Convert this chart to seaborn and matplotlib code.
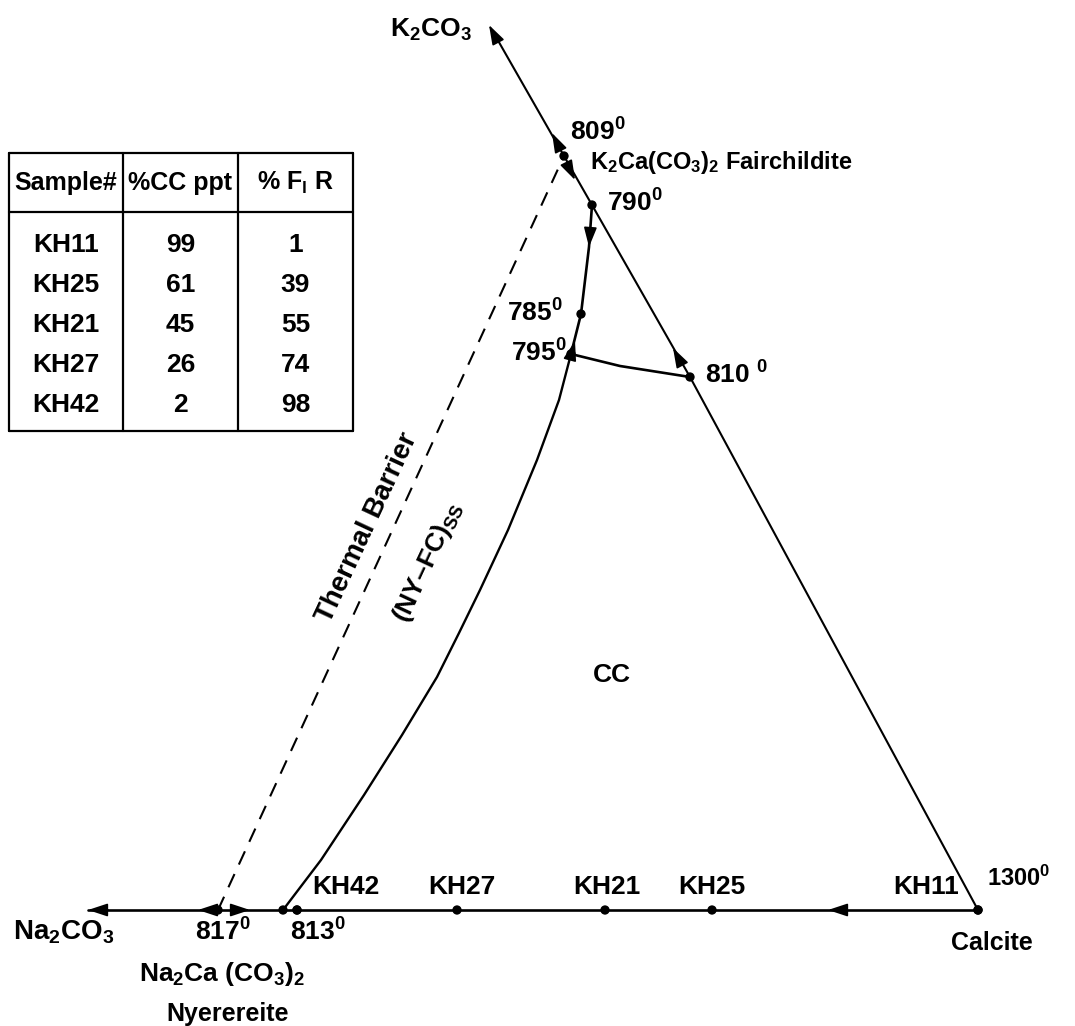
import numpy as np
import pandas as pd
import seaborn as sns
import matplotlib.pyplot as plt

# ---- data (diagram frame: x to the right, y downwards) ----
# Na2CO3 - Calcite join
base_x = [88, 978]
base_y = [910, 910]
# K2CO3 - Calcite join, through 810, 790 and 809 points
right_x = [978, 690, 592, 564, 492]
right_y = [910, 377, 205, 156, 30]
# thermal barrier (dashed), 817 -> 809
barrier_x = [218, 564]
barrier_y = [910, 156]
# boundary curve 790 -> 785 -> 795
upper_x = [592, 589, 581, 571]
upper_y = [205, 247, 314, 354]
# boundary curve 795 -> 810
mid_x = [571, 620, 690]
mid_y = [354, 366, 377]
# (NY-FC)ss liquidus 795 -> 813
lower_x = [571, 559, 537, 508, 480, 459, 437, 402, 364, 321, 283]
lower_y = [354, 400, 460, 530, 590, 633, 677, 735, 795, 860, 910]

# invariant points
inv_x = [564, 592, 581, 571, 690, 218, 283, 297, 978]
inv_y = [156, 205, 314, 354, 377, 910, 910, 910, 910]

# samples along the base line
samples = ["KH11", "KH25", "KH21", "KH27", "KH42"]
cc_ppt = [99, 61, 45, 26, 2]
fl_r = [1, 39, 55, 74, 98]
sample_x = [978, 712, 605, 457, 297]

# arrow heads: (tail x, tail y, head x, head y)
arrows = [
    (498, 42, 489, 25),
    (88 + 20, 910, 88, 910),
    (558, 145, 552, 133),
    (569, 168, 575, 180),
    (590, 233, 589, 247),
    (572, 352, 575, 341),
    (680, 361, 673, 348),
    (842, 910, 828, 910),
    (212, 910, 198, 910),
    (236, 910, 250, 910),
]

sns.set_theme(style="white")
plt.rcParams["font.family"] = ["Liberation Sans", "DejaVu Sans"]
plt.rcParams["text.color"] = "black"
plt.rcParams["mathtext.fontset"] = "custom"
plt.rcParams["mathtext.bf"] = "Liberation Sans:bold"
plt.rcParams["mathtext.rm"] = "Liberation Sans:bold"
plt.rcParams["mathtext.default"] = "bf"

fig = plt.figure(figsize=(10.75, 10.26), dpi=100)
ax = fig.add_axes([0, 0, 1, 1])
ax.set_xlim(0, 1075)
ax.set_ylim(1026, 0)
ax.axis("off")

line_kw = dict(sort=False, estimator=None, color="black", legend=False, ax=ax)
sns.lineplot(x=base_x, y=base_y, lw=1.9, **line_kw)
sns.lineplot(x=right_x, y=right_y, lw=1.5, **line_kw)
sns.lineplot(x=upper_x, y=upper_y, lw=1.9, **line_kw)
sns.lineplot(x=mid_x, y=mid_y, lw=1.9, **line_kw)
sns.lineplot(x=lower_x, y=lower_y, lw=1.7, **line_kw)
ax.plot(barrier_x, barrier_y, color="black", lw=1.5, dashes=(7, 5))

sns.scatterplot(x=inv_x, y=inv_y, s=45, color="black", edgecolor="none", ax=ax)
sns.scatterplot(x=sample_x, y=[910] * len(sample_x), s=45, color="black",
                edgecolor="none", ax=ax)

for x0, y0, x1, y1 in arrows:
    ax.annotate("", xy=(x1, y1), xytext=(x0, y0),
                arrowprops=dict(arrowstyle="-|>,head_length=1.0,head_width=0.33",
                                color="black", lw=1.2, shrinkA=0, shrinkB=0))


def label(x, y, s, size=19, **kw):
    ax.text(x, y, s, fontsize=size, fontweight="bold", color="black", **kw)


label(472, 30, "K$_2$CO$_3$", ha="right", va="center")
label(570, 132, "809$^0$", ha="left", va="center")
label(590, 163, "K$_2$Ca(CO$_3$)$_2$ Fairchildite", size=17, ha="left", va="center")
label(607, 203, "790$^0$", ha="left", va="center")
label(563, 313, "785$^0$", ha="right", va="center")
label(567, 353, "795$^0$", ha="right", va="center")
label(705, 375, "810 $^0$", ha="left", va="center")
label(987, 878, "1300$^0$", size=17, ha="left", va="center")
label(992, 943, "Calcite", size=18, ha="center", va="center")
label(13, 932, "Na$_2$CO$_3$", size=20, ha="left", va="center")
label(195, 932, "817$^0$", ha="left", va="center")
label(290, 932, "813$^0$", ha="left", va="center")
label(222, 974, "Na$_2$Ca (CO$_3$)$_2$", ha="center", va="center")
label(228, 1014, "Nyerereite", size=18, ha="center", va="center")
label(612, 675, "CC", ha="center", va="center")

label(367, 528, "Thermal Barrier", size=20, rotation=65, ha="center", va="center",
      rotation_mode="anchor")
label(428, 562, "(NY\u2013FC)$_{SS}$", rotation=65, ha="center", va="center",
      rotation_mode="anchor")

label_left = [893, 678, 573, 428, 312]
for name, lx in zip(samples, label_left):
    label(lx, 887, name, ha="left", va="center")

# ---- table ----
col_edges = [9, 123, 238, 353]
row_top, head_bottom, row_bottom = 153, 212, 431
for cx in col_edges:
    ax.plot([cx, cx], [row_top, row_bottom], color="black", lw=1.6)
for ry in [row_top, head_bottom, row_bottom]:
    ax.plot([col_edges[0], col_edges[-1]], [ry, ry], color="black", lw=1.6)

headers = ["Sample#", "%CC ppt", "% F$_l$ R"]
col_mid = [(a + b) / 2 for a, b in zip(col_edges[:-1], col_edges[1:])]
for h, cx in zip(headers, col_mid):
    label(cx, 183, h, size=18, ha="center", va="center")
for i, (s, c, f) in enumerate(zip(samples, cc_ppt, fl_r)):
    ry = 245 + 40 * i
    for v, cx in zip([s, c, f], col_mid):
        label(cx, ry, str(v), ha="center", va="center")

fig.savefig("out.png", dpi=100)
